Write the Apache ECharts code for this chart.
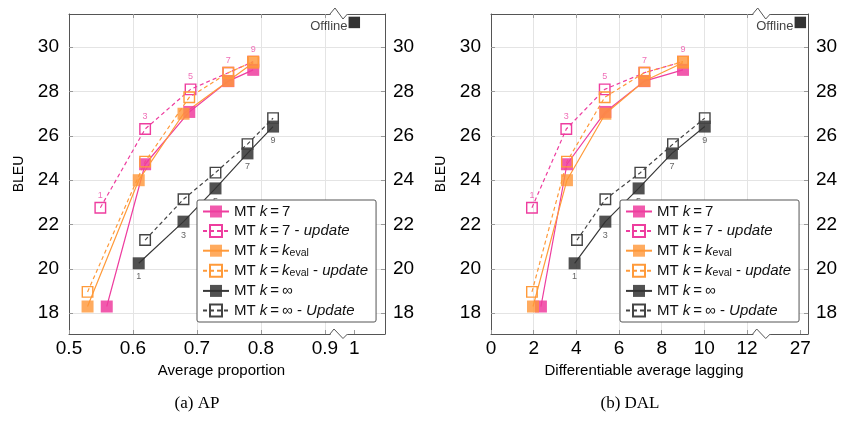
<!DOCTYPE html>
<html><head><meta charset="utf-8">
<script src="https://cdn.jsdelivr.net/npm/echarts@6/dist/echarts.min.js"></script>
<style>html,body{margin:0;padding:0;background:#fff}#c{width:843px;height:424px}</style>
</head><body><div id="c"></div>
<script>
// ---------------- data ----------------
const kValues = [1, 3, 5, 7, 9];
const bleu_k7        = [18.3, 24.72, 27.08, 28.47, 28.98];
const bleu_k7_upd    = [22.76, 26.31, 28.1, 28.85, 29.35];
const bleu_keval     = [18.3, 24.0, 27.0, 28.48, 29.3];
const bleu_keval_upd = [18.96, 24.84, 27.74, 28.85, 29.35];
const bleu_inf       = [20.25, 22.13, 23.63, 25.21, 26.42];
const bleu_inf_upd   = [21.3, 23.14, 24.34, 25.63, 26.8];

const ap_k7        = [0.559, 0.619, 0.688, 0.749, 0.788];
const ap_k7_upd    = [0.549, 0.619, 0.690, 0.749, 0.788];
const ap_keval     = [0.529, 0.609, 0.679, 0.749, 0.788];
const ap_keval_upd = [0.529, 0.619, 0.688, 0.749, 0.788];
const ap_inf       = [0.609, 0.679, 0.729, 0.779, 0.819];
const ap_inf_upd   = [0.619, 0.679, 0.729, 0.779, 0.819];

const dal_k7        = [2.34, 3.56, 5.36, 7.19, 9.0];
const dal_k7_upd    = [1.92, 3.53, 5.33, 7.19, 9.0];
const dal_keval     = [1.97, 3.56, 5.36, 7.19, 9.0];
const dal_keval_upd = [1.92, 3.56, 5.33, 7.19, 9.0];
const dal_inf       = [3.92, 5.36, 6.92, 8.48, 10.02];
const dal_inf_upd   = [4.03, 5.36, 7.0, 8.53, 10.02];

const offline_ap = 1, offline_dal = 27, offline_bleu = 31.12;

const apTicks   = [0.5, 0.6, 0.7, 0.8, 0.9, 1];
const dalTicks  = [0, 2, 4, 6, 8, 10, 12, 27];
const bleuTicks = [18, 20, 22, 24, 26, 28, 30];

const seriesNames = ['MT k=7', 'MT k=7 - update', 'MT k=keval', 'MT k=keval - update', 'MT k=∞', 'MT k=∞ - Update'];

// ---------------- axis break (display mapping) ----------------
const AP_BREAK = 0.92, AP_SHIFT = 0.054;
const DAL_BREAK = 13, DAL_SHIFT = 12.5;
const mapAP = v => v > AP_BREAK ? +(v - AP_SHIFT).toFixed(4) : v;
const mapDAL = v => v > DAL_BREAK ? +(v - DAL_SHIFT).toFixed(4) : v;

// ---------------- styles ----------------
const FONT = 'Liberation Sans';
const PINK = '#EE3D9F', ORANGE = '#FF9A3A', DARK = '#383838';
const FILL = {pink: 'rgba(238,61,159,0.85)', orange: 'rgba(255,150,55,0.8)', dark: 'rgba(50,50,50,0.85)'};
const FRAME = '#555', GRIDC = '#e4e4e4', TICKC = '#999';

const Y_MIN = 17.06, Y_MAX = 31.5;
const AP_MIN = 0.5, AP_MAX = 0.994;
const DAL_MIN = 0, DAL_MAX = 14.86;

function pairs(xs, ys, map) { return xs.map((x, i) => [map(x), ys[i]]); }

function lineSeries(name, xs, ys, map, color, fill, dashed, gi, labelCfg) {
  const s = {
    name, type: 'line', xAxisIndex: gi * 2, yAxisIndex: gi * 2,
    data: pairs(xs, ys, map), symbol: 'rect',
    symbolSize: dashed ? 10.5 : 12,
    lineStyle: {color, width: 1.2, type: dashed ? [4, 3] : 'solid'},
    itemStyle: dashed ? {color: 'rgba(255,255,255,0)', borderColor: color, borderWidth: 1.4}
                      : {color: fill, borderWidth: 0},
    emphasis: {disabled: true}, z: 3
  };
  if (labelCfg) {
    s.label = Object.assign({show: true, fontSize: 9, fontFamily: FONT,
      formatter: p => String(kValues[p.dataIndex])}, labelCfg);
  }
  return s;
}

function buildSeries(gi, xsets, map) {
  return [
    lineSeries(seriesNames[0], xsets[0], bleu_k7, map, PINK, FILL.pink, false, gi),
    lineSeries(seriesNames[1], xsets[1], bleu_k7_upd, map, PINK, null, true, gi,
      {position: 'top', distance: 2, color: '#F070B8'}),
    lineSeries(seriesNames[2], xsets[2], bleu_keval, map, ORANGE, FILL.orange, false, gi),
    lineSeries(seriesNames[3], xsets[3], bleu_keval_upd, map, ORANGE, null, true, gi),
    lineSeries(seriesNames[4], xsets[4], bleu_inf, map, DARK, FILL.dark, false, gi,
      {position: 'bottom', distance: 3, color: '#666'}),
    lineSeries(seriesNames[5], xsets[5], bleu_inf_upd, map, '#444', null, true, gi),
  ];
}

function offlineSeries(gi, x) {
  return {
    type: 'scatter', xAxisIndex: gi * 2, yAxisIndex: gi * 2, symbol: 'rect', symbolSize: 11.5,
    data: [[x, offline_bleu]], itemStyle: {color: '#000'}, z: 4,
    label: {show: true, position: 'left', distance: 1, offset: [0, 4], formatter: 'Offline',
      fontSize: 13, fontFamily: FONT, color: '#111'},
    emphasis: {disabled: true}
  };
}

function xAxes(gi, min, max, ticks, map, name) {
  const mapped = ticks.map(map);
  const gridVals = ticks.filter(t => t > min && map(t) === t && t < max).map(map);
  return [{
    gridIndex: gi, type: 'value', position: 'bottom', min, max,
    axisLine: {show: true, onZero: false, lineStyle: {color: FRAME, width: 1}},
    axisTick: {show: true, inside: true, length: 4, customValues: mapped, lineStyle: {color: TICKC}},
    axisLabel: {show: true, customValues: mapped, margin: 5, fontSize: 19, fontFamily: FONT, color: '#000',
      formatter: v => { const i = mapped.findIndex(m => Math.abs(m - v) < 1e-6); return i >= 0 ? String(ticks[i]) : ''; }},
    splitLine: {show: false},
    name, nameLocation: 'middle', nameGap: 27,
    nameTextStyle: {fontSize: 15, fontFamily: FONT, color: '#000', padding: [0, 11, 0, 0]}
  }, {
    gridIndex: gi, type: 'value', position: 'top', min, max,
    axisLine: {show: true, onZero: false, lineStyle: {color: FRAME, width: 1}},
    axisTick: {show: true, inside: true, length: 4, customValues: gridVals, lineStyle: {color: TICKC}},
    axisLabel: {show: false},
    splitLine: {show: true, lineStyle: {color: GRIDC, width: 1}}
  }];
}

function yAxes(gi) {
  return [{
    gridIndex: gi, type: 'value', position: 'left', min: Y_MIN, max: Y_MAX,
    axisLine: {show: true, onZero: false, lineStyle: {color: FRAME}},
    axisTick: {show: true, inside: true, length: 4, customValues: bleuTicks, lineStyle: {color: TICKC}},
    axisLabel: {show: true, customValues: bleuTicks, margin: 10, fontSize: 19, fontFamily: FONT, color: '#000'},
    splitLine: {show: true, lineStyle: {color: GRIDC}},
    name: 'BLEU', nameLocation: 'middle', nameGap: 43, nameRotate: 90,
    nameTextStyle: {fontSize: 14, fontFamily: FONT, color: '#000'}
  }, {
    gridIndex: gi, type: 'value', position: 'right', min: Y_MIN, max: Y_MAX,
    axisLine: {show: true, onZero: false, lineStyle: {color: FRAME}},
    axisTick: {show: true, inside: true, length: 4, customValues: bleuTicks, lineStyle: {color: TICKC}},
    axisLabel: {show: true, customValues: bleuTicks, margin: 8, fontSize: 19, fontFamily: FONT, color: '#000'},
    splitLine: {show: false}
  }];
}

const legendRich = {
  n: {fontSize: 15, fontFamily: FONT, color: '#111', lineHeight: 16},
  i: {fontSize: 15, fontFamily: FONT, color: '#111', fontStyle: 'italic', lineHeight: 16},
  s: {fontSize: 10.5, fontFamily: FONT, color: '#111', lineHeight: 16, verticalAlign: 'bottom', padding: [4, 0, 0, 0]}
};
const EQ = '\u2009=\u2009';
const legendText = {
  'MT k=7': '{n|MT }{i|k}{n|' + EQ + '7}',
  'MT k=7 - update': '{n|MT }{i|k}{n|' + EQ + '7 - }{i|update}',
  'MT k=keval': '{n|MT }{i|k}{n|' + EQ + '}{i|k}{s|eval}',
  'MT k=keval - update': '{n|MT }{i|k}{n|' + EQ + '}{i|k}{s|eval}{n| - }{i|update}',
  'MT k=∞': '{n|MT }{i|k}{n|' + EQ + '∞}',
  'MT k=∞ - Update': '{n|MT }{i|k}{n|' + EQ + '∞ - }{i|Update}'
};
function legend(left) {
  return {
    show: true, orient: 'vertical', left, top: 200, data: seriesNames,
    itemWidth: 26, itemHeight: 15, itemGap: 4.6, padding: [4, 8, 4, 5],
    backgroundColor: '#fff', borderColor: FRAME, borderWidth: 1, borderRadius: 2,
    selectedMode: false, formatter: n => legendText[n],
    textStyle: {fontSize: 15, fontFamily: FONT, color: '#111', rich: legendRich}
  };
}

const chart = echarts.init(document.getElementById('c'), null, {renderer: 'canvas'});
const option = {
  animation: false,
  backgroundColor: '#fff',
  grid: [
    {left: 69, top: 14, width: 316, height: 320, containLabel: false},
    {left: 491, top: 14, width: 317, height: 320, containLabel: false}
  ],
  xAxis: [...xAxes(0, AP_MIN, AP_MAX, apTicks, mapAP, 'Average proportion'),
          ...xAxes(1, DAL_MIN, DAL_MAX, dalTicks, mapDAL, 'Differentiable average lagging')],
  yAxis: [...yAxes(0), ...yAxes(1)],
  legend: [legend(197), legend(620)],
  series: [
    ...buildSeries(0, [ap_k7, ap_k7_upd, ap_keval, ap_keval_upd, ap_inf, ap_inf_upd], mapAP),
    offlineSeries(0, mapAP(offline_ap)),
    ...buildSeries(1, [dal_k7, dal_k7_upd, dal_keval, dal_keval_upd, dal_inf, dal_inf_upd], mapDAL),
    offlineSeries(1, mapDAL(offline_dal))
  ]
};
chart.setOption(option);

// ---------- decorations: axis-break zigzags and captions ----------
function zigzags(xi, yi, breakVal) {
  const x0 = chart.convertToPixel({xAxisIndex: xi}, breakVal);
  const top = chart.convertToPixel({yAxisIndex: yi}, Y_MAX);
  const bot = chart.convertToPixel({yAxisIndex: yi}, Y_MIN);
  const els = [];
  [top, bot].forEach((y, k) => {
    els.push({type: 'rect', z: 100, shape: {x: x0 + 0.6, y: y - 2, width: 16.8, height: 4}, style: {fill: '#fff'}, silent: true});
    const pts = k === 0
      ? [[x0, y], [x0 + 5, y - 6], [x0 + 13, y + 5], [x0 + 17.5, y]]
      : [[x0, y], [x0 + 4, y - 5], [x0 + 13, y + 4.5], [x0 + 17.5, y]];
    els.push({type: 'polyline', z: 101, shape: {points: pts}, style: {stroke: FRAME, lineWidth: 1, fill: null}, silent: true});
  });
  return els;
}
const g = [
  ...zigzags(0, 0, 0.908),
  ...zigzags(2, 2, 12.27),
  {type: 'text', z: 100, style: {text: '(a) AP', x: 197, y: 404, align: 'center', verticalAlign: 'middle',
    font: '17px "Liberation Serif"', fill: '#000'}},
  {type: 'text', z: 100, style: {text: '(b) DAL', x: 630, y: 404, align: 'center', verticalAlign: 'middle',
    font: '17px "Liberation Serif"', fill: '#000'}}
];
chart.setOption({graphic: g});
</script>
</body></html>
